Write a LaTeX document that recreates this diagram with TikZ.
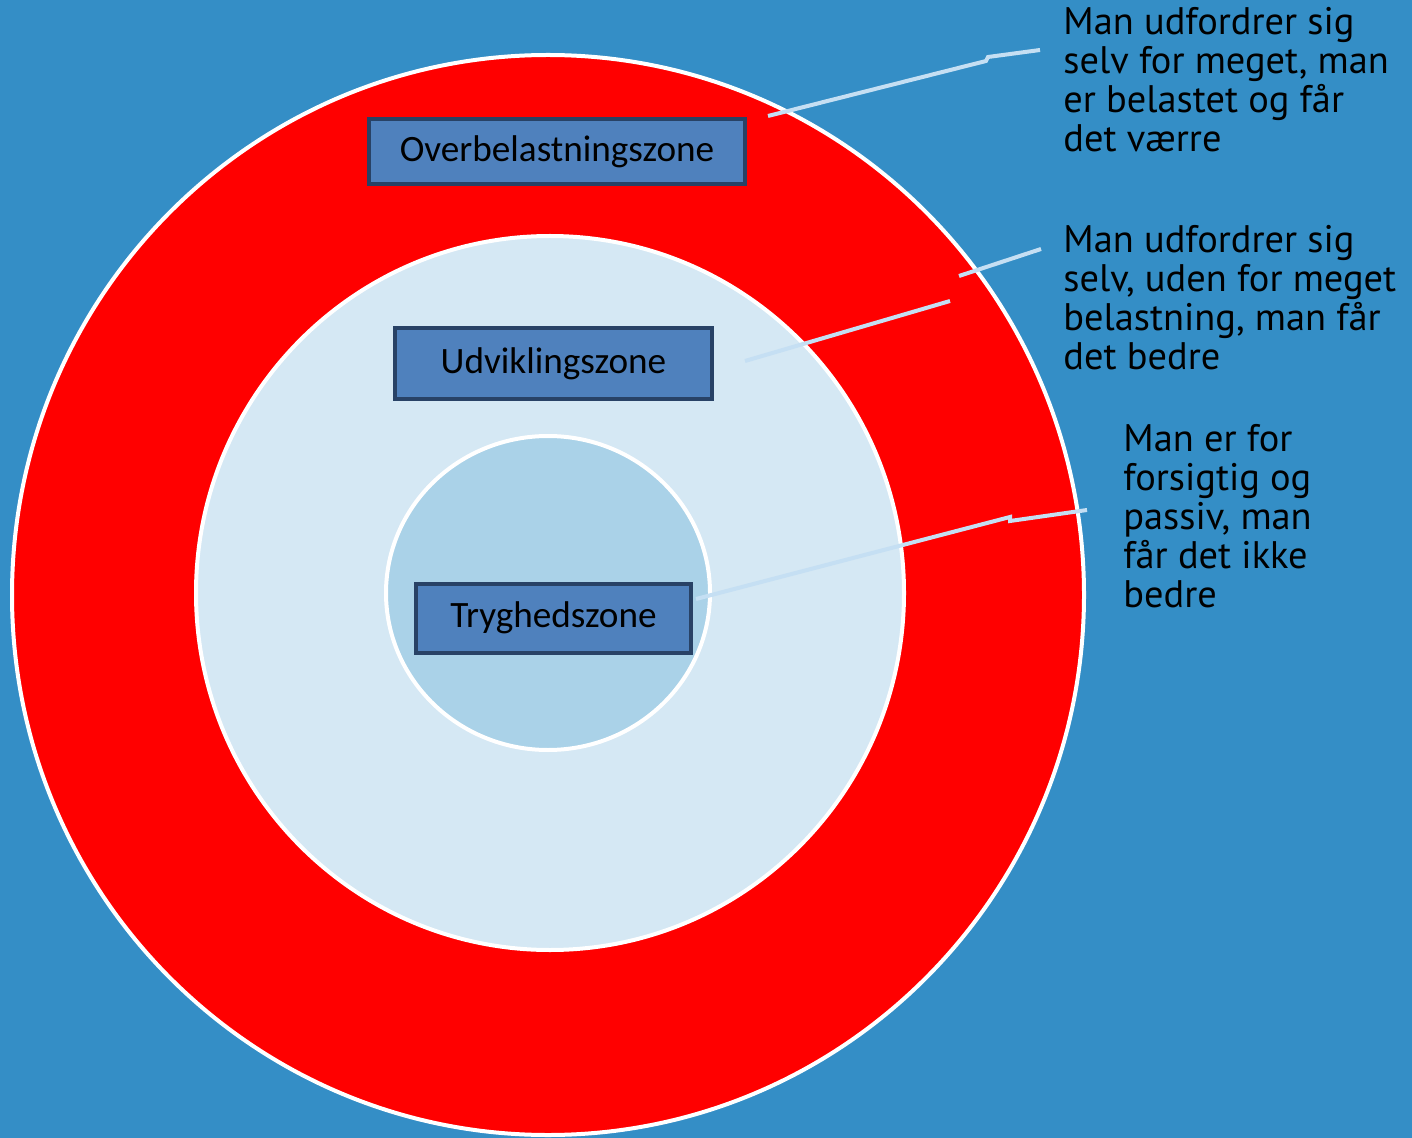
\documentclass[tikz,border=0pt]{standalone}
\usepackage{fontspec}
\setmainfont{PT Sans}
\newfontfamily\boxfont{Carlito}
\definecolor{bgblue}{RGB}{52,142,198}
\definecolor{zonered}{RGB}{255,0,0}
\definecolor{zonemid}{RGB}{213,232,244}
\definecolor{zoneinner}{RGB}{170,210,232}
\definecolor{boxfill}{RGB}{79,129,189}
\definecolor{boxline}{RGB}{40,66,102}
\definecolor{leader}{RGB}{197,223,243}
\tikzset{
  ring/.style={draw=white, line width=2pt},
  zonebox/.style={draw=boxline, fill=boxfill, line width=2pt, inner sep=0pt,
    font=\boxfont\fontsize{18.6}{21}\selectfont, text=black},
  note/.style={anchor=base west, inner sep=0pt, align=left, text=black,
    font=\fontsize{19.2}{19.5}\selectfont},
  leaderline/.style={draw=leader, line width=2pt}
}
\begin{document}
\begin{tikzpicture}[x=0.5pt,y=-0.5pt]
\fill[bgblue] (0,0) rectangle (1412,1138);
\useasboundingbox (0,0) rectangle (1412,1138);
% zones
\path[ring, fill=zonered] (548,595) ellipse [x radius=536, y radius=540];
\path[ring, fill=zonemid] (550,593) ellipse [x radius=354, y radius=357];
\path[ring, fill=zoneinner] (548,593) ellipse [x radius=162, y radius=157];
% boxes
\node[zonebox, minimum width=188pt, minimum height=32.5pt] (over) at (557,152) {Overbelastningszone};
\node[zonebox, minimum width=158.5pt, minimum height=35.5pt] (udv) at (553.5,364) {Udviklingszone};
\node[zonebox, minimum width=137.5pt, minimum height=34.5pt] (tryg) at (553.5,618) {Tryghedszone};
% notes (anchored at the baseline of their last line)
\node[note] (n1) at (1063,152) {Man udfordrer sig\\selv for meget, man\\er belastet og får\\det værre};
\node[note] (n2) at (1063,370) {Man udfordrer sig\\selv, uden for meget\\belastning, man får\\det bedre};
\node[note] (n3) at (1123,607) {Man er for\\forsigtig og\\passiv, man\\får det ikke\\bedre};
% leader lines
\coordinate (a1) at (768,116);
\coordinate (a1k) at (986,61);
\coordinate (a1j) at (988,57);
\coordinate (a1e) at (1040,50);
\draw[leaderline] (a1) -- (a1k) -- (a1j) -- (a1e);
\coordinate (b1) at (745,361);
\coordinate (b1e) at (950,301);
\coordinate (b2) at (959,276);
\coordinate (b2e) at (1041,249);
\draw[leaderline] (b1) -- (b1e);
\draw[leaderline] (b2) -- (b2e);
\coordinate (c1) at (696,599);
\coordinate (c1k) at (1010,517);
\coordinate (c1j) at (1010,521);
\coordinate (c1e) at (1087,510);
\draw[leaderline] (c1) -- (c1k) -- (c1j) -- (c1e);
\end{tikzpicture}
\end{document}
